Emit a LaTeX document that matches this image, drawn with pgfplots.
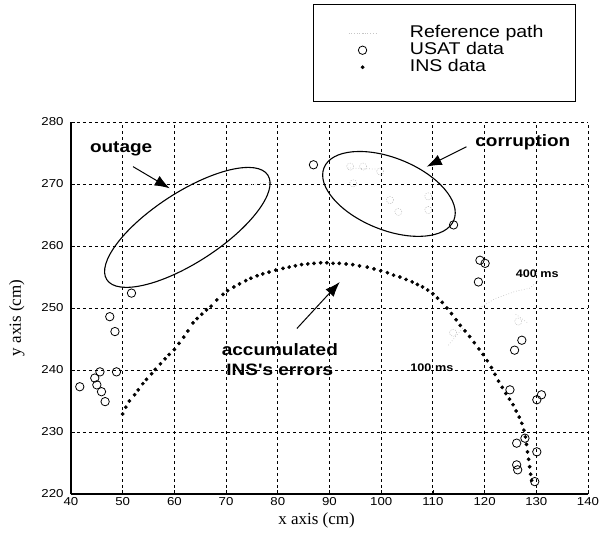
\documentclass[border=0pt]{standalone}
\usepackage{fontspec}
\setmainfont{Liberation Serif}
\setsansfont{Liberation Sans}
\newfontfamily\sfx{Liberation Sans}[FakeStretch=1.15]
\usepackage{pgfplots}
\pgfplotsset{compat=1.18}
\usetikzlibrary{arrows.meta}
\begin{document}
\begin{tikzpicture}
\path[use as bounding box] (-71pt,-47pt) rectangle (529pt,494pt);
\begin{axis}[
    at={(0pt,0pt)}, anchor=south west,
    scale only axis, width=517pt, height=372pt,
    xmin=40, xmax=140, ymin=220, ymax=280,
    xtick={40,50,...,140}, ytick={220,230,...,280},
    axis lines=left, axis line style={-, line width=1.1pt},
    tick align=inside, major tick length=4pt,
    tick style={black, line width=0.8pt},
    grid=major,
    grid style={black, line width=0.9pt, dash pattern=on 3pt off 3pt},
    /pgf/number format/assume math mode=true,
    /pgf/number format/set thousands separator={},
    xticklabel={\sfx\fontsize{11.5}{12}\selectfont\pgfmathprintnumber{\tick}},
    yticklabel={\sfx\fontsize{11.5}{12}\selectfont\pgfmathprintnumber{\tick}},
    yticklabel style={xshift=-4pt},
    xlabel={x axis (cm)}, ylabel={y axis (cm)},
    label style={font=\rmfamily\fontsize{17}{19}\selectfont},
    xlabel style={at={(axis description cs:0.475,-0.072)}, anchor=center},
    ylabel style={at={(axis description cs:-0.105,0.473)}, anchor=center},
    clip=false,
    unbounded coords=jump,
    legend style={draw=none, fill=none,
        at={(axis description cs:0.5358,1.262)}, anchor=north west,
        inner sep=0pt, row sep=0pt, column sep=31pt,
        font=\sfx\fontsize{17}{18}\selectfont,
        nodes={inner sep=2pt, text height=11pt, text depth=2pt}},
    legend cell align=left,
    legend image code/.code={\draw[mark repeat=2,mark phase=2,#1]
        plot coordinates {(0pt,0pt) (14pt,0pt) (28pt,0pt)};},
]
% reference path (barely visible in the original)
\addplot[gray!45, line width=0.7pt, dotted] coordinates {
    (74,269.8) (79,270.3) (nan,nan)
    (93.5,272.6) (99,272.4) (nan,nan)
    (113,244) (116,247) (nan,nan)
    (119,250) (122,251.5) (126,252.7) (128.8,253.2) (130.5,254.5) (nan,nan)
    (126,249) (128.5,247.5)
};
\addlegendentry{Reference path}

% USAT data
\addplot[only marks, mark=o, mark size=4.2pt, black, mark options={line width=0.8pt}] coordinates {
    (41.7,237.3) (44.6,238.7) (45.6,239.7) (45.0,237.6) (45.9,236.5)
    (46.6,234.9) (47.5,248.6) (48.5,246.2) (48.8,239.7) (51.7,252.4)
    (86.9,273.1) (114.0,263.4) (119.1,257.7) (120.1,257.2) (118.8,254.2)
    (127.2,244.8) (125.8,243.2) (124.9,236.8) (130.1,235.2) (131.0,236.0)
    (126.2,228.2) (127.8,229.0) (130.1,226.8) (126.2,224.7) (126.4,223.9)
    (129.7,222.0)
};
\addlegendentry{USAT data}

% INS data
\addplot[only marks, mark=*, mark size=1.7pt, black] coordinates {
    (50.0,232.9) (50.6,234.0) (51.3,235.0) (52.3,236.0) (53.0,236.8)
    (53.9,237.8) (54.6,238.5) (55.6,239.4) (56.3,240.1) (57.3,241.0)
    (58.2,241.8) (59.0,242.5) (60.0,243.3) (60.9,244.3) (61.8,245.3)
    (62.6,246.3) (63.6,247.6) (64.4,248.3) (65.3,249.0) (66.2,249.7)
    (67.1,250.3) (68.2,251.3) (69.4,252.2) (70.3,252.8) (71.5,253.4)
    (72.6,253.9) (73.8,254.4) (74.8,254.8) (76.0,255.2) (77.1,255.5)
    (78.3,255.8) (79.6,256.1) (81.0,256.4) (82.2,256.6) (83.4,256.8)
    (84.6,257.0) (85.8,257.1) (87.0,257.2) (88.3,257.3) (89.5,257.3)
    (90.7,257.2) (91.9,257.2) (93.2,257.1) (94.5,257.0) (95.8,256.8)
    (97.3,256.6) (98.6,256.3) (99.9,256.0) (101.2,255.7) (102.4,255.3)
    (103.6,255.0) (104.8,254.6) (106.0,254.2) (107.0,253.8) (108.0,253.4)
    (109.0,252.9) (110.0,252.3) (110.9,251.6) (111.8,250.9) (112.7,250.0)
    (113.6,249.1) (114.5,248.1) (115.3,247.2) (116.2,246.3) (117.1,245.4)
    (118.0,244.4) (118.9,243.4) (119.7,242.5) (120.5,241.5) (121.3,240.4)
    (122.0,239.3) (122.7,238.2) (123.4,237.2) (124.1,236.2) (124.8,235.3)
    (125.5,234.4) (126.1,233.4) (126.7,232.4) (127.2,231.4) (127.6,230.3)
    (127.9,229.2) (128.1,228.0) (128.3,226.8) (128.5,225.6) (128.7,224.4)
    (128.9,223.2) (129.1,222.2)
};
\addlegendentry{INS data}

% corrupted USAT fixes, drawn faint
\addplot[forget plot, only marks, mark=o, mark size=3.6pt, gray!60,
    mark options={dash pattern=on 1.2pt off 1.2pt}] coordinates {
    (94.0,272.8) (96.5,272.8) (99.8,272.0) (94.6,270.1) (101.7,267.4)
    (103.3,265.5) (109.1,268.0) (109.1,265.8) (126.5,247.8) (113.9,246.0)
};

% annotations
\coordinate (oc) at (axis cs:62.5,263);
\coordinate (cc) at (axis cs:101.5,268.4);
\node[font=\sfx\bfseries\fontsize{16.5}{18}\selectfont] at (axis cs:49.7,275.6) {outage};
\node[font=\sfx\bfseries\fontsize{16.5}{18}\selectfont] at (axis cs:127.4,276.8) {corruption};
\node[font=\sfx\bfseries\fontsize{16.5}{20}\selectfont, align=center] at (axis cs:80.4,241.6) {accumulated\\INS's errors};
\node[font=\sfx\bfseries\fontsize{11}{12}\selectfont] at (axis cs:130.2,255.6) {400 ms};
\node[font=\sfx\bfseries\fontsize{11}{12}\selectfont] at (axis cs:109.8,240.3) {100 ms};
\draw[line width=1pt, -{Latex[length=15pt,width=11pt]}] (axis cs:52.0,272.8) -- (axis cs:59.1,269.3);
\draw[line width=1pt, -{Latex[length=15pt,width=11pt]}] (axis cs:116.5,276) -- (axis cs:108.8,272.8);
\draw[line width=1pt, -{Latex[length=15pt,width=11pt]}] (axis cs:83.7,246.7) -- (axis cs:92.0,254.2);
\end{axis}
\draw[line width=1.1pt, rotate around={33:(oc)}] (oc) ellipse [x radius=96pt, y radius=35pt];
\draw[line width=1.1pt, rotate around={-22:(cc)}] (cc) ellipse [x radius=70pt, y radius=36pt];
% legend frame
\draw[line width=1pt] (242pt,392pt) rectangle (504pt,489pt);
\end{tikzpicture}
\end{document}
